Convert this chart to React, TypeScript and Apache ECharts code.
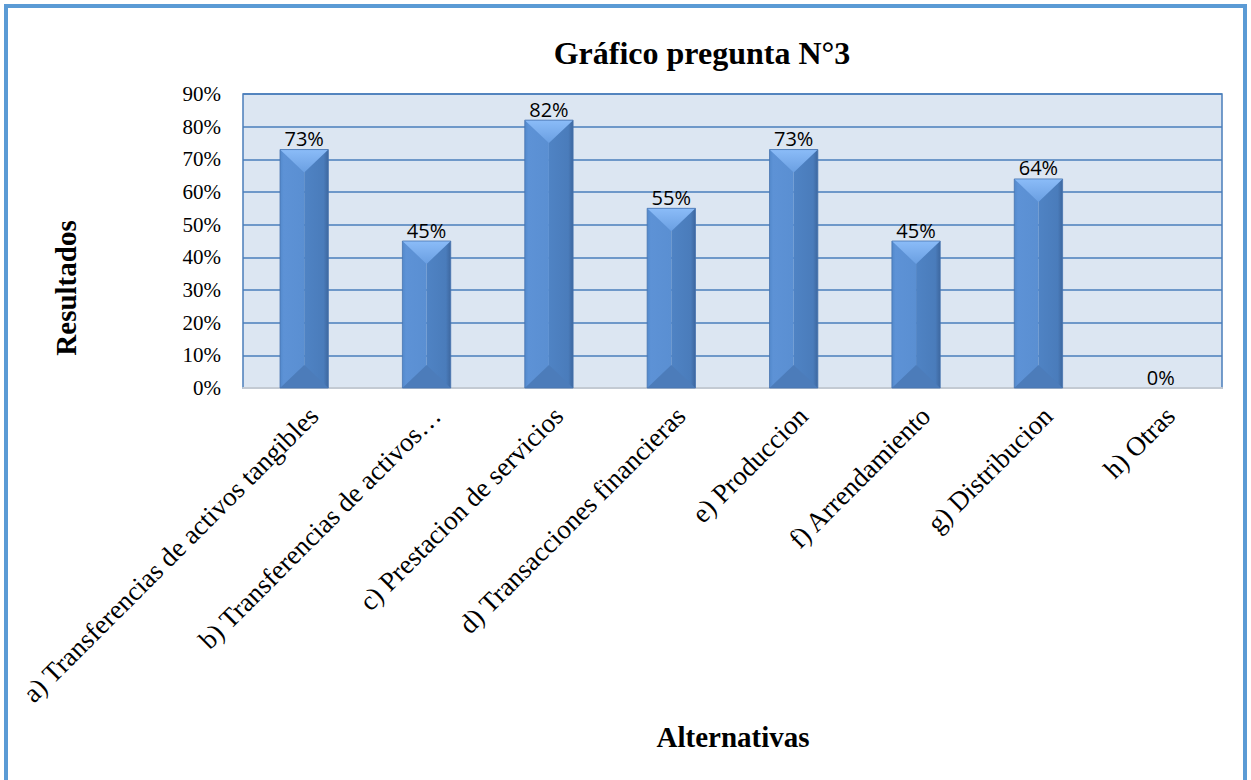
import React, { useEffect, useRef } from "react";
import * as echarts from "echarts";

// Survey results per alternative (percent of respondents)
const categories = [
  "a) Transferencias de activos tangibles",
  "b) Transferencias de activos…",
  "c) Prestacion de servicios",
  "d) Transacciones financieras",
  "e) Produccion",
  "f) Arrendamiento",
  "g) Distribucion",
  "h) Otras",
];
const values = [73, 45, 82, 55, 73, 45, 64, 0];
const yMax = 90;
const yStep = 10;

const chartTitle = "Gráfico pregunta N°3";
const xName = "Alternativas";
const yName = "Resultados";

const SERIF = "'Liberation Serif', 'Times New Roman', serif";
const SANS = "'Open Sans', 'Liberation Sans', sans-serif";

// Bevelled box bar: two shaded halves plus a lit top wedge and a dark bottom wedge
function renderBevelBar(params: any, api: any) {
  const v = api.value(1);
  const top = api.coord([api.value(0), v]);
  const base = api.coord([api.value(0), 0]);
  const bw = api.size([1, 0])[0] * 0.395;
  const xc = top[0];
  const x0 = xc - bw / 2;
  const x1 = xc + bw / 2;
  const y0 = top[1];
  const y1 = base[1];
  const h = y1 - y0;
  if (h <= 0.5) return { type: "group", children: [] };
  const d = Math.min((bw / 2) * 0.95, h / 2);
  return {
    type: "group",
    children: [
      {
        type: "rect",
        shape: { x: x0, y: y0, width: bw / 2, height: h },
        style: {
          fill: new echarts.graphic.LinearGradient(0, 0, 1, 0, [
            { offset: 0, color: "#5289cc" },
            { offset: 0.15, color: "#5d92d6" },
            { offset: 1, color: "#5a8fd2" },
          ]),
        },
      },
      {
        type: "rect",
        shape: { x: xc, y: y0, width: bw / 2, height: h },
        style: {
          fill: new echarts.graphic.LinearGradient(0, 0, 1, 0, [
            { offset: 0, color: "#4f83c4" },
            { offset: 0.8, color: "#4a7cbb" },
            { offset: 1, color: "#3d679f" },
          ]),
        },
      },
      {
        type: "polygon",
        shape: { points: [[x0, y0], [x1, y0], [xc, y0 + d]] },
        style: {
          fill: new echarts.graphic.LinearGradient(0, 0, 0, 1, [
            { offset: 0, color: "#8bbcf8" },
            { offset: 1, color: "#6a9fe2" },
          ]),
        },
      },
      {
        type: "polygon",
        shape: { points: [[x0, y1], [x1, y1], [xc, y1 - d]] },
        style: { fill: "#4c7cba" },
      },
      {
        type: "rect",
        shape: { x: x0, y: y0, width: bw, height: h },
        style: { fill: "none", stroke: "#4674b0", lineWidth: 0.8 },
      },
    ],
  };
}

export default function App() {
  const ref = useRef<HTMLDivElement>(null);

  useEffect(() => {
    if (!ref.current) return;
    const chart = echarts.init(ref.current, undefined, { renderer: "svg" });
    chart.setOption({
      animation: false,
      backgroundColor: "#ffffff",
      grid: {
        left: 243,
        top: 94,
        right: 29,
        bottom: 392,
        show: true,
        backgroundColor: "#dce6f2",
        borderColor: "#4a7ebb",
        borderWidth: 1.5,
      },
      xAxis: {
        type: "category",
        data: categories,
        axisLine: { show: true, lineStyle: { color: "#c3cad3", width: 2 } },
        axisTick: { show: false },
        axisLabel: {
          interval: 0,
          rotate: 45,
          margin: 14,
          align: "right",
          verticalAlign: "top",
          color: "#000000",
          fontFamily: SERIF,
          fontSize: 27,
        },
      },
      yAxis: {
        type: "value",
        min: 0,
        max: yMax,
        interval: yStep,
        axisLine: { show: false },
        axisTick: { show: false },
        splitLine: { lineStyle: { color: "#4a7ebb", width: 1.5 } },
        axisLabel: {
          formatter: "{value}%",
          margin: 22,
          color: "#000000",
          fontFamily: SERIF,
          fontSize: 21,
        },
      },
      series: [
        {
          type: "custom",
          renderItem: renderBevelBar,
          encode: { x: 0, y: 1 },
          data: values.map((v, i) => [i, v]),
          z: 2,
        },
        {
          type: "bar",
          data: values,
          barWidth: "39.5%",
          itemStyle: { color: "rgba(0,0,0,0)" },
          label: {
            show: true,
            position: "top",
            distance: 1,
            formatter: "{c}%",
            color: "#000000",
            fontFamily: SANS,
            fontSize: 20,
          },
          z: 3,
        },
      ],
      graphic: [
        {
          type: "rect",
          silent: true,
          shape: { x: 6, y: 6, width: 1239, height: 820 },
          style: { fill: "none", stroke: "#5b9bd5", lineWidth: 4 },
          z: 10,
        },
        {
          type: "text",
          x: 702,
          y: 53,
          style: {
            text: chartTitle,
            fontFamily: SERIF,
            fontWeight: "bold",
            fontSize: 32,
            fill: "#000000",
            textAlign: "center",
            textVerticalAlign: "middle",
          },
        },
        {
          type: "text",
          x: 733,
          y: 737,
          style: {
            text: xName,
            fontFamily: SERIF,
            fontWeight: "bold",
            fontSize: 29,
            fill: "#000000",
            textAlign: "center",
            textVerticalAlign: "middle",
          },
        },
        {
          type: "text",
          x: 66,
          y: 288,
          rotation: Math.PI / 2,
          style: {
            text: yName,
            fontFamily: SERIF,
            fontWeight: "bold",
            fontSize: 29,
            fill: "#000000",
            textAlign: "center",
            textVerticalAlign: "middle",
          },
        },
      ],
    });
    return () => chart.dispose();
  }, []);

  return (
    <div
      ref={ref}
      style={{ position: "fixed", left: 0, top: 0, width: 1251, height: 780 }}
    />
  );
}
